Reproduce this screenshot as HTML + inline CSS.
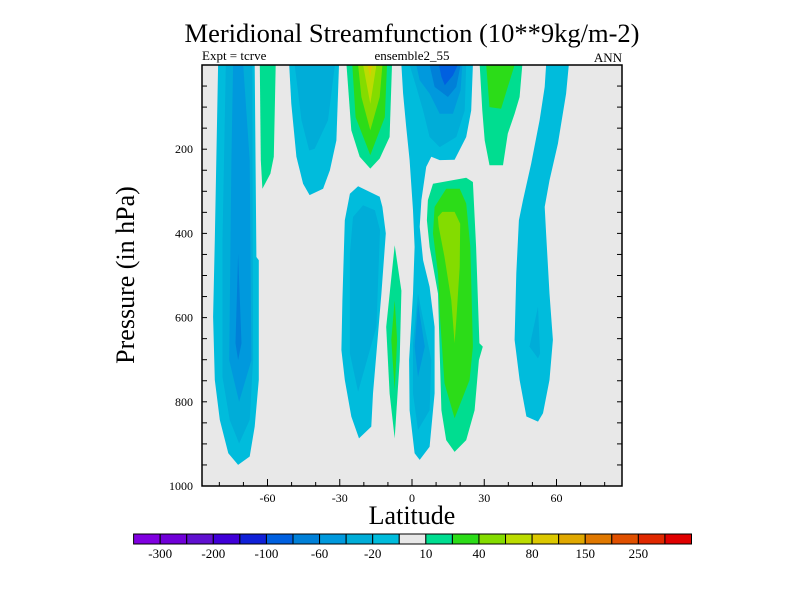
<!DOCTYPE html>
<html><head><meta charset="utf-8"><style>
html,body{margin:0;padding:0;background:#fff;}
svg{display:block;font-family:"Liberation Serif",serif;}
</style></head><body>
<svg id="chart" width="800" height="600" viewBox="0 0 800 600" xmlns="http://www.w3.org/2000/svg">
<text x="412" y="42" font-size="26" text-anchor="middle" textLength="455" lengthAdjust="spacingAndGlyphs">Meridional Streamfunction (10**9kg/m-2)</text>
<text x="202" y="60" font-size="13">Expt = tcrve</text>
<text x="412" y="60" font-size="13" text-anchor="middle">ensemble2_55</text>
<text x="622" y="62" font-size="13" text-anchor="end">ANN</text>
<rect x="202" y="65" width="420" height="421" fill="#e8e8e8"/>
<g id="contours"></g>
<g id="axes"></g>
<g id="colorbar"></g>
<text x="412" y="524" font-size="26" text-anchor="middle">Latitude</text>
<text x="0" y="0" font-size="26" text-anchor="middle" transform="translate(134,275) rotate(-90)">Pressure (in hPa)</text>
</svg>
<script>
// Level colours (colorbar boxes)
const barColors = ["#8000e0","#7000d8","#6010d0","#4000d8","#1020d8","#0060e0","#0080d8","#0099dd","#00add8","#00bcdc","#e8e8e8","#00dd90","#2cdc18","#84dc00","#bcdc00","#dcc800","#e0a800","#e07800","#e05000","#e02800","#e00000"];
const barLabels = ["-300","-200","-100","-60","-20","10","40","80","150","250"];
const xTickLabels = [-60,-30,0,30,60];
const yTickLabels = [200,400,600,800,1000];
// Contour regions: level index into barColors, then [lat, hPa] outline
const regionLevels = [9,8,7,6, 11, 9,8, 11,12,13,14,15, 9,8,7,6,5, 8,7, 11,12, 9,8, 11,12,13, 11,12, 9,8];
const regionShapes = [
 [[-80.5,0],[-65.3,0],[-64.6,456],[-63.6,464],[-63.6,748],[-65.3,859],[-67.4,930],[-72.2,950],[-76.3,922],[-79.8,843],[-81.9,748],[-82.6,598],[-81.9,416]],
 [[-77.3,0],[-66.3,0],[-66,701],[-67.4,843],[-71.8,899],[-75.7,843],[-78.7,741],[-78.7,416]],
 [[-74.3,0],[-70.1,0],[-67.4,226],[-66.7,701],[-71.8,800],[-75.9,701],[-75,226]],
 [[-72.2,448],[-70.8,661],[-72.2,701],[-73.3,661]],
 [[-63.2,0],[-56.6,0],[-57.4,218],[-58.8,258],[-62.1,294],[-62.8,226]],
 [[-51,0],[-30.3,0],[-31.4,179],[-34.1,250],[-36.9,294],[-42.5,309],[-45.2,282],[-48,218],[-50.1,92]],
 [[-48.7,0],[-32,0],[-34.9,131],[-40.4,199],[-42.7,203],[-45.9,131]],
 [[-27.2,0],[-8.3,0],[-9.3,171],[-13.4,222],[-17.3,246],[-21.7,218],[-25.2,155]],
 [[-24.8,0],[-10.4,0],[-11.3,124],[-17.3,214],[-23.4,124]],
 [[-22.4,0],[-12.3,0],[-13.4,76],[-17.3,155],[-21,76]],
 [[-20.3,0],[-14.8,0],[-17.3,92]],
 [[-18.5,0],[-16.5,0],[-17.4,28]],
 [[-4.4,0],[25.3,0],[24.6,108],[22.5,171],[17.7,225],[11.5,226],[8,218],[5.9,242],[3.9,321],[3.2,384],[4.6,464],[7.3,527],[9.4,622],[9.4,780],[7.3,907],[3.2,938],[1.1,922],[-1,820],[-1.2,701],[0.4,543],[1.1,432],[0.4,345],[-1,226],[-2.4,147],[-3.7,68]],
 [[-1,0],[22.5,0],[21.9,108],[18.4,171],[11.5,195],[7.3,171],[4.6,108],[1.8,52]],
 [[1.8,0],[20.9,0],[20.2,60],[17,116],[11.5,116],[7.3,68],[3.2,36]],
 [[7.3,0],[20.2,0],[18.4,52],[14.9,76],[9.4,52]],
 [[11.2,0],[19,0],[17,25],[13.6,48],[12.2,28]],
 [[2.5,543],[8,701],[7.3,820],[2.5,867],[0.4,780],[0.4,661]],
 [[2.5,566],[5.3,669],[2.5,741],[1.1,669]],
 [[-7.2,428],[-4.4,536],[-5.1,701],[-7.2,887],[-9.3,780],[-10.7,622]],
 [[-7.2,559],[-6.2,653],[-7.2,772],[-8.6,653]],
 [[-22.4,288],[-13.4,313],[-12.3,337],[-10.9,400],[-12.7,543],[-14.8,685],[-16.2,780],[-16.9,859],[-22,887],[-25.2,835],[-27.9,748],[-29.3,677],[-28.9,559],[-27.9,369],[-25.8,306]],
 [[-20.3,333],[-15.4,345],[-13.3,392],[-14.8,622],[-22.4,776],[-25.8,685],[-25.8,448],[-24.5,361]],
 [[8.7,282],[22.5,268],[25.3,278],[26.6,432],[28,661],[29.4,669],[27.8,701],[26,820],[22.5,891],[17.7,919],[14.2,891],[12.2,820],[10.8,543],[7.3,432],[6.2,369],[6.6,321]],
 [[14.2,294],[19.8,294],[22.5,329],[24.2,432],[25.3,669],[23.9,748],[17.7,839],[13.5,756],[11.7,606],[10.8,495],[8.7,400],[9.4,337]],
 [[12.6,349],[17.7,349],[20,377],[19.8,479],[18.4,606],[17.7,661],[16.3,559],[13.5,456],[11.1,384],[10.7,361]],
 [[28.1,0],[45.8,0],[44.7,76],[42.6,116],[39.8,163],[37.8,238],[32.2,238],[30.2,179],[29.2,108]],
 [[30.8,0],[42.6,0],[39.8,52],[37,104],[32.2,100]],
 [[55.7,0],[65.1,0],[64,68],[60.6,187],[57.1,274],[55.1,337],[55.7,400],[57.1,543],[58.5,653],[57.1,748],[54.4,827],[52.3,847],[47.5,835],[44.7,748],[42.6,653],[43.3,495],[44.4,369],[46.1,321],[49.5,234],[53,131],[55.1,52]],
 [[52.3,574],[53.2,685],[52.3,697],[48.8,669]]
];
const NS="http://www.w3.org/2000/svg";
const X0=202,X1=622,Y0=65,Y1=486,LATMIN=-87.2,LATMAX=87.2,PMIN=0,PMAX=1000;
function xScale(lat){return X0+(lat-LATMIN)/(LATMAX-LATMIN)*(X1-X0);}
function yScale(p){return Y0+(p-PMIN)/(PMAX-PMIN)*(Y1-Y0);}
function mk(tag,attrs){const e=document.createElementNS(NS,tag);for(const k in attrs)e.setAttribute(k,attrs[k]);return e;}
const cg=document.getElementById('contours');
regionShapes.forEach((shape,i)=>{
  const pts=shape.map(p=>xScale(p[0]).toFixed(1)+','+yScale(p[1]).toFixed(1)).join(' ');
  const poly=mk('polygon',{points:pts,fill:barColors[regionLevels[i]]});
  
  
  cg.appendChild(poly);
});
const ax=document.getElementById('axes');
const frame=mk('rect',{x:X0,y:Y0,width:X1-X0,height:Y1-Y0,fill:'none',stroke:'#000','stroke-width':1.5});


ax.appendChild(frame);
for(let lat=-80;lat<=80;lat+=10){
  const major=lat%30===0;
  const t=mk('line',{x1:xScale(lat),x2:xScale(lat),y1:Y1,y2:Y1-(major?7:4),stroke:'#000','stroke-width':1});
  
  
  ax.appendChild(t);
}
xTickLabels.forEach(v=>{
  const t=mk('text',{x:xScale(v),y:Y1+16,'font-size':12,'text-anchor':'middle'});
  t.textContent=v;
  
  
  ax.appendChild(t);
});
for(let p=50;p<1000;p+=50){
  [[X0,5],[X1,-5]].forEach(([xx,d])=>{
    const t=mk('line',{x1:xx,x2:xx+d,y1:yScale(p),y2:yScale(p),stroke:'#000','stroke-width':1});
    
    
    ax.appendChild(t);
  });
}
yTickLabels.forEach(v=>{
  const t=mk('text',{x:X0-9,y:yScale(v)+4,'font-size':12,'text-anchor':'end'});
  t.textContent=v;
  
  
  ax.appendChild(t);
});
const cb=document.getElementById('colorbar');
const CB0=133.6,CB1=691.5,CBY=534,CBH=10,bw=(CB1-CB0)/barColors.length;
barColors.forEach((c,i)=>{
  const r=mk('rect',{x:CB0+i*bw,y:CBY,width:bw,height:CBH,fill:c,stroke:'#000','stroke-width':1});
  
  
  cb.appendChild(r);
});
barLabels.forEach((l,i)=>{
  const t=mk('text',{x:CB0+(1+2*i)*bw,y:558,'font-size':13,'text-anchor':'middle'});
  t.textContent=l;
  
  
  cb.appendChild(t);
});
</script>
</body></html>
